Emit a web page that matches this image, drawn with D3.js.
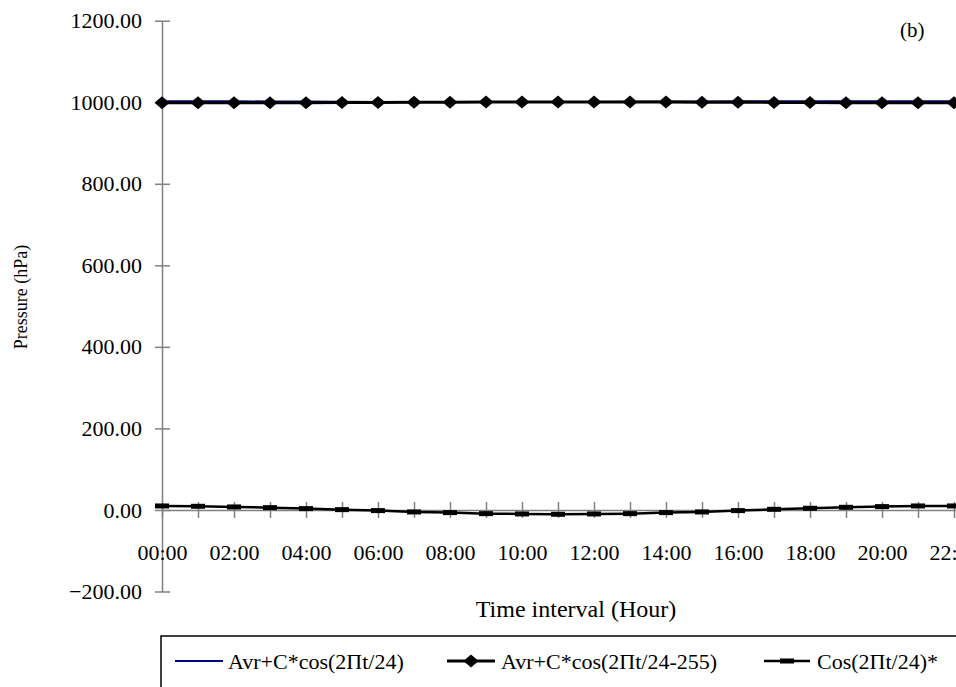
<!DOCTYPE html>
<html>
<head>
<meta charset="utf-8">
<script src="https://cdn.jsdelivr.net/npm/d3@7"></script>
<style>
  html, body { margin: 0; padding: 0; background: #fff; }
  svg { display: block; }
  svg text { font-family: "Liberation Serif", "Times New Roman", Times, serif; }
</style>
</head>
<body>
<svg id="chart" width="956" height="687"></svg>
<script>
// Hourly categories
const hours = ["00:00","01:00","02:00","03:00","04:00","05:00","06:00","07:00",
  "08:00","09:00","10:00","11:00","12:00","13:00","14:00","15:00",
  "16:00","17:00","18:00","19:00","20:00","21:00","22:00","23:00"];
const labelledHours = ["00:00","02:00","04:00","06:00","08:00","10:00",
  "12:00","14:00","16:00","18:00","20:00","22:00"];
const yTicks = [-200, 0, 200, 400, 600, 800, 1000, 1200];

// Series values (hPa)
const avrCos = [1002.6,1002.5,1002.3,1002.0,1001.6,1001.2,1000.8,1000.5,
  1000.4,1000.4,1000.5,1000.7,1000.9,1001.3,1001.7,1002.0,
  1002.2,1002.4,1002.5,1002.6,1002.6,1002.6,1002.6,1002.6];
const avrCosShift = [998.6,998.6,998.7,998.8,999.0,999.3,999.6,999.9,
  1000.1,1000.3,1000.4,1000.5,1000.5,1000.4,1000.3,1000.1,
  999.9,999.6,999.3,999.0,998.8,998.7,998.6,998.6];
const cosTerm = [9.8,9.0,7.4,5.7,3.3,0.8,-1.6,-4.9,
  -6.5,-9.0,-9.8,-10.6,-9.8,-9.0,-6.5,-4.9,
  -1.6,1.6,4.1,6.5,8.2,9.8,9.8,10.0];

const seriesNames = ["Avr+C*cos(2\u03A0t/24)", "Avr+C*cos(2\u03A0t/24-255)", "Cos(2\u03A0t/24)*"];

const serif = '"Liberation Serif", "Times New Roman", Times, serif';
const svg = d3.select("#chart");
svg.append("rect").attr("width", 956).attr("height", 687).attr("fill", "#fff");

const x = d3.scalePoint().domain(hours).range([162, 990]);
const y = d3.scaleLinear().domain([-200, 1200]).range([591.5, 20.7]);

const axisGrey = "#808080";
const tickFont = 22;

// Y axis with ticks crossing the axis line
const yAxis = svg.append("g")
  .attr("transform", "translate(162,0)")
  .call(d3.axisLeft(y).tickValues(yTicks).tickFormat(d3.format(".2f"))
    .tickSize(7).tickSizeOuter(0).tickPadding(13));
yAxis.select(".domain").attr("stroke", axisGrey).attr("stroke-width", 1.5);
yAxis.selectAll(".tick line").attr("stroke", axisGrey).attr("stroke-width", 1.5);
yAxis.selectAll(".tick").append("line").attr("x2", 8).attr("stroke", axisGrey).attr("stroke-width", 1.5);
yAxis.selectAll(".tick text").attr("fill", "#000")
  .style("font-family", serif).style("font-size", tickFont + "px");

// X axis at zero, ticks every hour, labels every two hours
const xAxis = svg.append("g")
  .attr("transform", `translate(0,${y(0)})`)
  .call(d3.axisBottom(x).tickValues(hours)
    .tickFormat(d => labelledHours.includes(d) ? d : "")
    .tickSize(8).tickSizeOuter(0).tickPadding(26));
xAxis.select(".domain").attr("stroke", axisGrey).attr("stroke-width", 1.5);
xAxis.selectAll(".tick line").attr("stroke", axisGrey).attr("stroke-width", 1.5);
xAxis.selectAll(".tick").append("line").attr("y2", -8).attr("stroke", axisGrey).attr("stroke-width", 1.5);
xAxis.selectAll(".tick text").attr("fill", "#000")
  .style("font-family", serif).style("font-size", tickFont + "px");

// Series lines
const line = d3.line().x((d, i) => x(hours[i])).y(d => y(d));

svg.append("path").datum(avrCos)
  .attr("d", line).attr("fill", "none").attr("stroke", "#000080").attr("stroke-width", 2);

svg.append("path").datum(avrCosShift)
  .attr("d", line).attr("fill", "none").attr("stroke", "#000").attr("stroke-width", 3);

const diamond = "M0,-6.5L7.5,0L0,6.5L-7.5,0Z";
svg.append("g").selectAll("path").data(avrCosShift).join("path")
  .attr("d", diamond)
  .attr("transform", (d, i) => `translate(${x(hours[i])},${y(d)})`)
  .attr("fill", "#000");

svg.append("path").datum(cosTerm)
  .attr("d", line).attr("fill", "none").attr("stroke", "#000").attr("stroke-width", 2.5);

svg.append("g").selectAll("rect").data(cosTerm).join("rect")
  .attr("x", (d, i) => x(hours[i]) - 7).attr("y", d => y(d) - 2.5)
  .attr("width", 14).attr("height", 5).attr("fill", "#000");

// Axis titles
svg.append("text")
  .attr("transform", "translate(21,297) rotate(-90)")
  .attr("text-anchor", "middle").attr("dominant-baseline", "central")
  .style("font-family", serif).style("font-size", "18px")
  .text("Pressure (hPa)");

svg.append("text")
  .attr("x", 576).attr("y", 617)
  .attr("text-anchor", "middle")
  .style("font-family", serif).style("font-size", "24px")
  .text("Time interval (Hour)");

svg.append("text")
  .attr("x", 900).attr("y", 37)
  .style("font-family", serif).style("font-size", "21px")
  .text("(b)");

// Legend
const legend = svg.append("g");
legend.append("rect")
  .attr("x", 161).attr("y", 636).attr("width", 900).attr("height", 80)
  .attr("fill", "#fff").attr("stroke", "#000").attr("stroke-width", 1.5);

const ly = 661;
const items = [
  { x0: 175, x1: 223, tx: 228, color: "#000080", w: 2, marker: null },
  { x0: 447, x1: 495, tx: 501, color: "#000", w: 3, marker: "diamond" },
  { x0: 764, x1: 810, tx: 817, color: "#000", w: 2.5, marker: "rect" }
];
items.forEach((it, k) => {
  legend.append("line").attr("x1", it.x0).attr("x2", it.x1)
    .attr("y1", ly).attr("y2", ly).attr("stroke", it.color).attr("stroke-width", it.w);
  const mx = (it.x0 + it.x1) / 2;
  if (it.marker === "diamond") {
    legend.append("path").attr("d", diamond).attr("transform", `translate(${mx},${ly})`).attr("fill", "#000");
  } else if (it.marker === "rect") {
    legend.append("rect").attr("x", mx - 7).attr("y", ly - 2.5).attr("width", 14).attr("height", 5).attr("fill", "#000");
  }
  legend.append("text").attr("x", it.tx).attr("y", ly).attr("dominant-baseline", "central")
    .style("font-family", serif).style("font-size", "22px")
    .text(seriesNames[k]);
});
</script>
</body>
</html>
